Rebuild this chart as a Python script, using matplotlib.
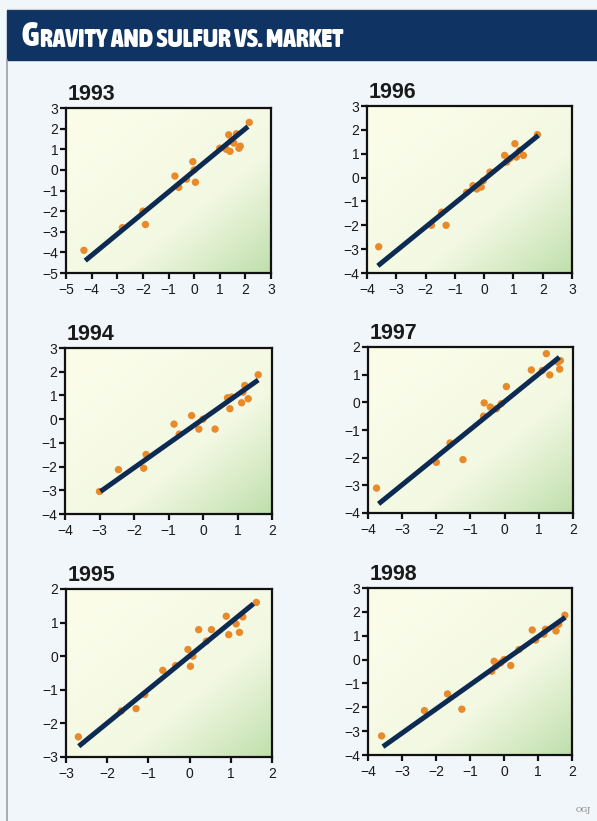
import matplotlib.pyplot as plt
import numpy as np
from matplotlib import font_manager as fm
from matplotlib.colors import LinearSegmentedColormap
from matplotlib.lines import Line2D
from matplotlib.patches import Rectangle

W, H = 597, 821

TITLE_CAP = "G"
TITLE_REST = "RAVITY AND SULFUR VS. MARKET"

YEARS = ["1993", "1996", "1994", "1997", "1995", "1998"]

# scatter values (market on x, gravity/sulfur model on y)
x_1993 = [-4.3, -2.8, -2.0, -1.9, -0.75, -0.6, -0.3, -0.05, 0.0, 0.05,
          1.0, 1.25, 1.35, 1.4, 1.45, 1.55, 1.65, 1.75, 1.8, 2.15]
y_1993 = [-3.9, -2.8, -2.0, -2.65, -0.3, -0.85, -0.45, 0.4, 0.0, -0.6,
          1.05, 1.0, 1.7, 0.9, 1.4, 1.3, 1.75, 1.05, 1.15, 2.3]
fit_1993 = ([-4.25, 2.1], [-4.4, 2.1])

x_1996 = [-3.6, -1.8, -1.45, -1.3, -0.6, -0.38, -0.25, -0.1, -0.03, 0.2,
          0.7, 0.77, 0.88, 1.05, 1.1, 1.22, 1.34, 1.82]
y_1996 = [-2.9, -2.0, -1.45, -2.0, -0.62, -0.34, -0.48, -0.4, -0.13, 0.23,
          0.93, 0.65, 0.8, 1.42, 0.86, 1.14, 0.93, 1.8]
fit_1996 = ([-3.63, 1.85], [-3.7, 1.77])

x_1994 = [-3.0, -2.45, -1.72, -1.65, -0.84, -0.69, -0.33, -0.12, 0.0, 0.35,
          0.71, 0.78, 0.83, 1.12, 1.16, 1.21, 1.31, 1.6]
y_1994 = [-3.05, -2.13, -2.07, -1.49, -0.21, -0.63, 0.15, -0.42, 0.0, -0.42,
          0.9, 0.44, 0.93, 0.69, 1.14, 1.42, 0.86, 1.87]
fit_1994 = ([-2.97, 1.6], [-3.05, 1.65])

x_1997 = [-3.75, -2.0, -1.6, -1.22, -0.62, -0.6, -0.42, -0.24, -0.1, 0.05,
          0.78, 1.1, 1.22, 1.32, 1.56, 1.61, 1.63]
y_1997 = [-3.1, -2.17, -1.47, -2.07, -0.5, -0.02, -0.17, -0.23, -0.05, 0.57,
          1.17, 1.15, 1.76, 0.99, 1.45, 1.2, 1.51]
fit_1997 = ([-3.69, 1.6], [-3.67, 1.63])

x_1995 = [-2.7, -1.66, -1.3, -1.09, -0.65, -0.34, -0.04, 0.02, 0.08, 0.22,
          0.41, 0.53, 0.89, 0.95, 1.13, 1.21, 1.29, 1.62]
y_1995 = [-2.4, -1.63, -1.56, -1.14, -0.42, -0.28, 0.2, -0.3, 0.0, 0.79,
          0.45, 0.79, 1.19, 0.64, 0.96, 0.71, 1.17, 1.6]
fit_1995 = ([-2.69, 1.55], [-2.68, 1.56])

x_1998 = [-3.6, -2.34, -1.66, -1.24, -0.36, -0.29, -0.24, -0.1, 0.0, 0.2,
          0.44, 0.83, 0.93, 1.17, 1.22, 1.53, 1.61, 1.79]
y_1998 = [-3.2, -2.14, -1.44, -2.08, -0.49, -0.07, -0.28, -0.14, 0.0, -0.25,
          0.42, 1.24, 0.82, 1.06, 1.27, 1.2, 1.48, 1.86]
fit_1998 = ([-3.56, 1.8], [-3.65, 1.77])

X_RANGES = {"1993": (-5, 3), "1996": (-4, 3), "1994": (-4, 2),
            "1997": (-4, 2), "1995": (-3, 2), "1998": (-4, 2)}
Y_RANGES = {"1993": (-5, 3), "1996": (-4, 3), "1994": (-4, 3),
            "1997": (-4, 2), "1995": (-3, 2), "1998": (-4, 3)}

SERIES = {
    "1993": (x_1993, y_1993, fit_1993),
    "1996": (x_1996, y_1996, fit_1996),
    "1994": (x_1994, y_1994, fit_1994),
    "1997": (x_1997, y_1997, fit_1997),
    "1995": (x_1995, y_1995, fit_1995),
    "1998": (x_1998, y_1998, fit_1998),
}

# axes boxes in pixels: left, top, right, bottom
BOXES = {
    "1993": (66, 108, 271, 273),
    "1996": (367, 106, 572, 273),
    "1994": (65, 348, 272, 514),
    "1997": (368, 347, 573, 513),
    "1995": (66, 589, 272, 757),
    "1998": (368, 588, 572, 755),
}

PAGE_BG = "#f1f6fa"
BAR_COLOR = "#0f3464"
LINE_COLOR = "#0c2a52"
DOT_COLOR = "#e8892a"
TEXT_COLOR = "#1a1a1a"

plt.rcParams["font.family"] = ["Liberation Sans", "DejaVu Sans"]


def weight_of(entry):
    w = entry.weight
    if isinstance(w, str):
        w = fm.weight_dict.get(w, 400)
    return w


# banner face: an upright heavy condensed font if there is one installed
heavy_narrow = [f for f in fm.fontManager.ttflist
                if weight_of(f) >= 600 and f.style == "normal"
                and ("Condensed" in f.name or "Narrow" in f.name
                     or "condensed" in str(f.stretch))
                and "italic" not in f.fname.lower()]
heavy_narrow.sort(key=lambda f: (-weight_of(f), f.name))
if heavy_narrow:
    TITLE_PROPS = dict(fontproperties=fm.FontProperties(fname=heavy_narrow[0].fname))
else:
    TITLE_PROPS = dict(family=["Roboto", "DejaVu Sans"], fontweight="bold")

fig = plt.figure(figsize=(W / 100, H / 100), dpi=100, facecolor=PAGE_BG)

# title bar and page edges
fig.patches.append(Rectangle((7 / W, 1 - 60 / H), 1, 50 / H,
                             transform=fig.transFigure, color=BAR_COLOR, zorder=0))
fig.lines.append(Line2D([7 / W, 7 / W], [0, 1 - 60 / H], transform=fig.transFigure,
                        color="#9a9fa6", lw=1.2))
fig.lines.append(Line2D([7 / W, 1], [1 - 9 / H, 1 - 9 / H], transform=fig.transFigure,
                        color="#c8ccd0", lw=0.8))

cap = fig.text(21 / W, 1 - 53 / H, TITLE_CAP, color="white", va="bottom",
               ha="left", **TITLE_PROPS)
cap.set_fontsize(24)
rest = fig.text(0, 0, TITLE_REST, color="white", va="bottom", ha="left",
                **TITLE_PROPS)
rest.set_fontsize(18)

# fit the banner text so it ends where the reference does
renderer = fig.canvas.get_renderer()
cap_box = cap.get_window_extent(renderer)
rest_w = rest.get_window_extent(renderer).width
rest.set_fontsize(min(21, 18 * (344 - cap_box.x1 - 1) / rest_w))
rest.set_position(((cap_box.x1 + 1) / W, cap_box.y0 / H + 1 / H))

fig.text(0.99, 0.008, "OGJ", fontsize=5.5, color="#777777", ha="right",
         va="bottom", family="DejaVu Serif")

bg_cmap = LinearSegmentedColormap.from_list("bg", ["#fbfde9", "#f2f8e2", "#bfdfac"])
uu, vv = np.meshgrid(np.linspace(0, 1, 80), np.linspace(0, 1, 80))
shade = np.clip((uu + (1 - vv)) / 2, 0, 1) ** 1.5

for year in YEARS:
    left, top, right, bottom = BOXES[year]
    ax = fig.add_axes([left / W, 1 - bottom / H, (right - left) / W, (bottom - top) / H])
    xlo, xhi = X_RANGES[year]
    ylo, yhi = Y_RANGES[year]
    xs, ys, fit = SERIES[year]

    ax.imshow(shade, cmap=bg_cmap, origin="lower", extent=(xlo, xhi, ylo, yhi),
              aspect="auto", zorder=0, interpolation="bilinear")
    ax.scatter(xs, ys, s=28, color=DOT_COLOR, edgecolors="none", zorder=2)
    ax.plot(fit[0], fit[1], color=LINE_COLOR, lw=3.6, solid_capstyle="butt", zorder=3)

    ax.set_xlim(xlo, xhi)
    ax.set_ylim(ylo, yhi)
    ax.set_xticks(np.arange(xlo, xhi + 1))
    ax.set_yticks(np.arange(ylo, yhi + 1))
    for side in ax.spines.values():
        side.set_linewidth(1.6)
        side.set_color("#111111")
    ax.tick_params(direction="out", length=4.5, width=1.6, colors="#111111",
                   labelsize=10, labelcolor=TEXT_COLOR)
    ax.tick_params(axis="y", pad=1)
    ax.tick_params(axis="x", pad=3)

    ax.text(0.01, 1.02, year, transform=ax.transAxes, fontsize=15.5,
            fontweight="bold", color=TEXT_COLOR, ha="left", va="bottom")

fig.savefig("out.png", dpi=100, facecolor=PAGE_BG)
